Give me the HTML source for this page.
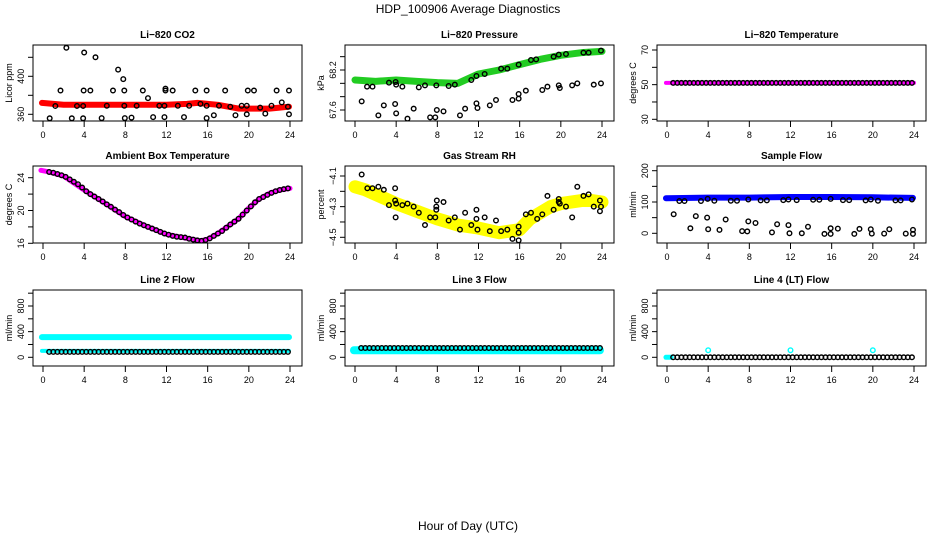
<!DOCTYPE html>
<html><head><meta charset="utf-8">
<style>
html,body{margin:0;padding:0;background:#fff;}
svg text{font-family:"Liberation Sans",sans-serif;fill:#000;}
</style></head>
<body>
<svg id="chart" width="936" height="540" viewBox="0 0 936 540" xmlns="http://www.w3.org/2000/svg">
<text x="468" y="13" font-size="12" text-anchor="middle">HDP_100906  Average Diagnostics</text>
<text x="468" y="530" font-size="12" text-anchor="middle">Hour of Day (UTC)</text>
</svg>
<script>
// ---- data ----
const xTicks = [0,4,8,12,16,20,24];
const co2BandT = [-0.1,2,4,6,8,10,12,14,15,16,17,18,19,20,21,22,23,23.9];
const co2BandV = [372,370,370,370,370,370,370,371,372,371,370,368,366,366,366,366,367,368];
const co2PtT = [0.65,1.2,1.7,2.27,2.8,3.3,3.9,3.95,4.0,3.9,4.6,5.1,5.7,6.2,6.8,7.3,7.8,7.9,7.9,7.95,8.6,9.1,9.7,10.2,10.7,11.3,11.8,11.8,11.9,11.9,12.6,13.1,13.7,14.2,14.8,15.3,15.9,15.9,15.9,16.6,17.1,17.7,18.2,18.7,19.3,19.8,19.9,19.8,20.5,21.1,21.6,22.2,22.7,23.2,23.8,23.9,23.9];
const co2PtV = [355.8,368.8,385,430,355.8,368.8,368.8,385,425,355.8,385,420,356,369,385,407,397,385,369,356,356.5,369,385,377,357,369,357,369,387,385,385,369,357,369,385,371,369,385,356,359,369,385,368,359,369,369,385,360,385,367,360.7,369,385,372.6,368,385,360];
const presBandT = [0,2,4,6,8,10,12,14,16,18,20,22,24];
const presBandV = [68.05,68.03,68.05,68.03,68.01,68.0,68.14,68.2,68.28,68.36,68.42,68.46,68.48];
const presPtT = [1.17,1.7,3.3,3.95,4.0,4.6,6.2,6.8,7.9,9.1,9.7,11.3,11.8,12.6,14.2,14.8,15.9,17.1,17.6,19.3,19.8,20.5,22.2,22.7,23.9,
 0.65,2.27,2.8,3.9,4.0,5.1,5.7,7.3,7.8,7.95,8.6,10.2,10.7,11.8,11.9,13.1,13.7,15.3,15.9,15.9,16.6,18.2,18.7,19.8,19.9,21.1,21.6,23.2,23.9];
const presPtV = [67.95,67.95,68.01,68.02,67.98,67.95,67.94,67.97,67.97,67.96,67.98,68.05,68.11,68.14,68.22,68.22,68.28,68.35,68.36,68.4,68.43,68.44,68.46,68.46,68.49,
 67.73,67.52,67.67,67.69,67.55,67.47,67.62,67.49,67.49,67.6,67.58,67.52,67.62,67.7,67.63,67.67,67.75,67.75,67.77,67.84,67.89,67.9,67.95,67.97,67.93,67.97,68.0,67.98,68.0];
const tempBandT = [-0.1,24];
const tempBandV = [51,51];
const tempPtV = [51,51,51,51,51,51,51,51,51,51,51,51,51,51,51,51,51,51,51,51,51,51,51,51,51,51,51,51,51,51,51,51,51,51,51,51,51,51,51,51,51,51,51,51,51,51,51,51,51,51,51,51,51,51,51,51,51,51,51];
const ambBandT = [-0.2,0.6,2,4,6,8,10,12,14,15.3,16,17,18,19,20,21,22,23,24];
const ambBandV = [24.9,24.7,24.2,22.5,20.9,19.25,18.1,17.1,16.6,16.3,16.5,17.2,18.1,19.0,20.3,21.4,22.1,22.5,22.7];
const ambPtV = [24.7,24.6,24.45,24.3,24.1,23.8,23.5,23.2,22.8,22.35,22.0,21.7,21.4,21.1,20.75,20.45,20.1,19.8,19.45,19.15,18.9,18.65,18.4,18.2,18.0,17.8,17.6,17.4,17.2,17.05,16.9,16.8,16.75,16.7,16.55,16.45,16.35,16.3,16.4,16.6,16.9,17.2,17.5,17.9,18.3,18.65,19.0,19.5,20.0,20.5,21.0,21.4,21.65,21.9,22.15,22.35,22.5,22.6,22.7];
const rhBandT = [0,1,2,3,4,6,8,10,12,14,16,17,18,19,20,22,23,24];
const rhBandV = [-4.17,-4.19,-4.22,-4.25,-4.28,-4.33,-4.38,-4.42,-4.44,-4.47,-4.45,-4.38,-4.34,-4.3,-4.28,-4.26,-4.26,-4.27];
const rhPtT = [0.65,1.2,1.7,2.27,2.8,3.3,3.9,3.9,4.0,3.95,4.6,5.1,5.7,6.2,6.8,7.3,7.8,7.9,7.9,7.95,8.6,9.1,9.7,10.2,10.7,11.3,11.8,11.8,11.9,12.6,13.1,13.7,14.2,14.8,15.3,15.9,15.9,15.9,16.6,17.1,17.7,18.2,18.7,19.3,19.8,19.8,19.9,20.5,21.1,21.6,22.2,22.7,23.2,23.8,23.9,23.8];
const rhPtV = [-4.09,-4.18,-4.18,-4.17,-4.19,-4.29,-4.18,-4.26,-4.28,-4.37,-4.29,-4.28,-4.30,-4.34,-4.42,-4.37,-4.37,-4.30,-4.32,-4.26,-4.27,-4.39,-4.37,-4.45,-4.34,-4.42,-4.32,-4.38,-4.45,-4.37,-4.46,-4.39,-4.46,-4.45,-4.51,-4.52,-4.43,-4.47,-4.35,-4.34,-4.38,-4.35,-4.23,-4.32,-4.25,-4.27,-4.28,-4.30,-4.37,-4.17,-4.23,-4.22,-4.30,-4.26,-4.30,-4.33];
const flowBandT = [-0.1,4,8,12,16,20,23.9];
const flowBandV = [112,114,114,116,116,115,113];
const flowPtT = [0.65,1.2,1.7,2.27,2.8,3.3,3.9,3.95,4.0,4.6,5.1,5.7,6.2,6.8,7.3,7.8,7.9,7.9,8.6,9.1,9.7,10.2,10.7,11.3,11.8,11.8,11.9,12.6,13.1,13.7,14.2,14.8,15.3,15.9,15.9,15.9,16.6,17.1,17.7,18.2,18.7,19.3,19.8,19.8,19.9,20.5,21.1,21.6,22.2,22.7,23.2,23.8,23.9,23.9];
const flowPtV = [61,103,103,16,55,103,50,110,13,104,11,44,104,104,7,6,38,108,33,105,105,3,29,106,26,108,0,106,0,21,107,107,-2,-2,110,16,15,106,106,-2,14,105,13,108,-1,104,-1,13,105,105,-1,108,-2,11];
const line2BandT = [-0.1,23.9];
const line2UpperV = [314,314];
const line2LowerV = [100,100];
const line2PtV = [85,85,85,85,85,85,85,85,85,85,85,85,85,85,85,85,85,85,85,85,85,85,85,85,85,85,85,85,85,85,85,85,85,85,85,85,85,85,85,85,85,85,85,85,85,85,85,85,85,85,85,85,85,85,85,85,85,85,85];
const line3BandT = [-0.1,23.8];
const line3BandV = [110,110];
const line3PtV = [145,145,145,145,145,145,145,145,145,145,145,145,145,145,145,145,145,145,145,145,145,145,145,145,145,145,145,145,145,145,145,145,145,145,145,145,145,145,145,145,145,145,145,145,145,145,145,145,145,145,145,145,145,145,145,145,145,145,145];
const line4BandT = [-0.1,0.4];
const line4BandV = [0,0];
const line4OutT = [4,12,20];
const line4OutV = [110,110,110];
const line4PtV = [0,0,0,0,0,0,0,0,0,0,0,0,0,0,0,0,0,0,0,0,0,0,0,0,0,0,0,0,0,0,0,0,0,0,0,0,0,0,0,0,0,0,0,0,0,0,0,0,0,0,0,0,0,0,0,0,0,0,0];

// ---- layout ----
const NS = "http://www.w3.org/2000/svg";
const svg = document.getElementById('chart');
const cols = [{l:33,r:302,x0:43,x24:290},{l:345,r:614,x0:355,x24:602},{l:657,r:926,x0:667,x24:914}];
const rows = [{t:45,b:121},{t:166,b:243},{t:290,b:366}];
function mk(tag, attrs, parent){const e=document.createElementNS(NS,tag);for(const k in attrs)e.setAttribute(k,attrs[k]);(parent||svg).appendChild(e);return e;}
function ptTimes(n){const a=[];for(let i=0;i<n;i++)a.push(0.6+i*0.4);return a;}

function panel(opt){
  const c=cols[opt.col], r=rows[opt.row];
  const g=mk('g',{});
  
  
  const sx=t=>c.x0+(t/24)*(c.x24-c.x0);
  const sy=v=>opt.yA+(v-opt.vA)/(opt.vB-opt.vA)*(opt.yB-opt.yA);
  const ttl=mk('text',{x:(c.l+c.r)/2,y:r.t-7,'font-size':10,'font-weight':'bold','text-anchor':'middle'},g);
  ttl.textContent=opt.title;
  
  
  const box=mk('rect',{x:c.l,y:r.t,width:c.r-c.l,height:r.b-r.t,fill:'none',stroke:'#000','stroke-width':1},g);
  
  
  // x axis
  xTicks.forEach(t=>{
    const x=sx(t);
    mk('line',{x1:x,x2:x,y1:r.b,y2:r.b+6,stroke:'#000'},g);
    const tl=mk('text',{x:x,y:r.b+17,'font-size':9,'text-anchor':'middle'},g);
    tl.textContent=t;
    
    
  });
  // y axis
  opt.yTicks.forEach(v=>{
    const y=sy(v);
    mk('line',{x1:c.l,x2:c.l-5,y1:y,y2:y,stroke:'#000'},g);
  });
  opt.yLabels.forEach(v=>{
    const y=sy(v);
    const tl=mk('text',{x:c.l-9,y:y,'font-size':9,'text-anchor':'middle',transform:`rotate(-90 ${c.l-9} ${y})`},g);
    tl.textContent=String(v).replace('-','\u2212');
    
    
  });
  const yt=mk('text',{x:c.l-21,y:(r.t+r.b)/2,'font-size':9,'text-anchor':'middle',transform:`rotate(-90 ${c.l-21} ${(r.t+r.b)/2})`},g);
  yt.textContent=opt.ylab;
  
  
  const clip='clip-'+opt.name;
  const cp=mk('clipPath',{id:clip},g);
  mk('rect',{x:c.l,y:r.t,width:c.r-c.l,height:r.b-r.t},cp);
  const pg=mk('g',{'clip-path':`url(#${clip})`},g);
  (opt.bands||[]).forEach(b=>{
    const pts=b.t.map((t,i)=>sx(t)+','+sy(b.v[i])).join(' ');
    const pl=mk('polyline',{points:pts,fill:'none',stroke:b.color,'stroke-width':b.w,'stroke-linecap':'round','stroke-linejoin':'round'},pg);
    
    
  });
  (opt.pts||[]).forEach(p=>{
    p.t.forEach((t,i)=>{
      const ci=mk('circle',{cx:sx(t),cy:sy(p.v[i]),r:2.3,fill:'none',stroke:p.color,'stroke-width':1.4},pg);
      
      
    });
  });
}

panel({name:'co2',title:'Li\u2212820 CO2',col:0,row:0,vA:360,yA:114.3,vB:400,yB:76.3,yTicks:[360,380,400,420],yLabels:[360,400],ylab:'Licor ppm',
  bands:[{name:'co2-band',t:co2BandT,v:co2BandV,color:'#ff0000',w:6}],
  pts:[{name:'co2-point',t:co2PtT,v:co2PtV,color:'#000'}]});
panel({name:'pressure',title:'Li\u2212820 Pressure',col:1,row:0,vA:67.6,yA:110,vB:68.2,yB:70,yTicks:[67.6,67.8,68.0,68.2,68.4],yLabels:[67.6,68.2],ylab:'kPa',
  bands:[{name:'pressure-band',t:presBandT,v:presBandV,color:'#22cc22',w:7}],
  pts:[{name:'pressure-point',t:presPtT,v:presPtV,color:'#000'}]});
panel({name:'licor-temp',title:'Li\u2212820 Temperature',col:2,row:0,vA:30,yA:119.3,vB:70,yB:50,yTicks:[30,40,50,60,70],yLabels:[30,50,70],ylab:'degrees C',
  bands:[{name:'licor-temp-band',t:tempBandT,v:tempBandV,color:'#ff00ff',w:4}],
  pts:[{name:'licor-temp-point',t:ptTimes(tempPtV.length),v:tempPtV,color:'#000'}]});
panel({name:'ambient',title:'Ambient Box Temperature',col:0,row:1,vA:16,yA:243.3,vB:24,yB:177.7,yTicks:[16,18,20,22,24],yLabels:[16,20,24],ylab:'degrees C',
  bands:[{name:'ambient-band',t:ambBandT,v:ambBandV,color:'#ff00ff',w:5}],
  pts:[{name:'ambient-point',t:ptTimes(ambPtV.length),v:ambPtV,color:'#000'}]});
panel({name:'gas-rh',title:'Gas Stream RH',col:1,row:1,vA:-4.1,yA:176,vB:-4.5,yB:237.3,yTicks:[-4.5,-4.4,-4.3,-4.2,-4.1],yLabels:[-4.5,-4.3,-4.1],ylab:'percent',
  bands:[{name:'rh-band',t:rhBandT,v:rhBandV,color:'#ffff00',w:13}],
  pts:[{name:'rh-point',t:rhPtT,v:rhPtV,color:'#000'}]});
panel({name:'sample-flow',title:'Sample Flow',col:2,row:1,vA:0,yA:233.3,vB:200,yB:170.7,yTicks:[0,50,100,150,200],yLabels:[0,100,200],ylab:'ml/min',
  bands:[{name:'sample-flow-band',t:flowBandT,v:flowBandV,color:'#0000ff',w:6}],
  pts:[{name:'sample-flow-point',t:flowPtT,v:flowPtV,color:'#000'}]});
const lineY={vA:0,yA:357.3,vB:800,yB:306,yTicks:[0,200,400,600,800,1000],yLabels:[0,400,800],ylab:'ml/min'};
panel(Object.assign({name:'line2',title:'Line 2 Flow',col:0,row:2,
  bands:[{name:'line2-upper-band',t:line2BandT,v:line2UpperV,color:'#00ffff',w:6},{name:'line2-lower-band',t:line2BandT,v:line2LowerV,color:'#00ffff',w:4}],
  pts:[{name:'line2-point',t:ptTimes(line2PtV.length),v:line2PtV,color:'#000'}]},lineY));
panel(Object.assign({name:'line3',title:'Line 3 Flow',col:1,row:2,
  bands:[{name:'line3-band',t:line3BandT,v:line3BandV,color:'#00ffff',w:8}],
  pts:[{name:'line3-point',t:ptTimes(line3PtV.length),v:line3PtV,color:'#000'}]},lineY));
panel(Object.assign({name:'line4',title:'Line 4 (LT) Flow',col:2,row:2,
  bands:[{name:'line4-band',t:line4BandT,v:line4BandV,color:'#00ffff',w:5}],
  pts:[{name:'line4-point',t:ptTimes(line4PtV.length),v:line4PtV,color:'#000'},{name:'line4-outlier',t:line4OutT,v:line4OutV,color:'#00ffff'}]},lineY));
</script>
</body></html>
